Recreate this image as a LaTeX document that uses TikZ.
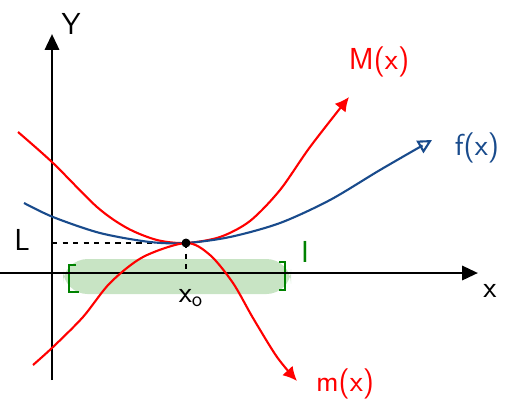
\documentclass[tikz,border=0pt]{standalone}
\usetikzlibrary{arrows.meta}
\definecolor{fblue}{RGB}{25,75,140}
\definecolor{bandgreen}{RGB}{200,228,196}
\definecolor{igreen}{RGB}{0,130,0}
\tikzset{
  axis/.style={line width=1.6pt, -{Triangle[length=9pt,width=8pt]}},
  curve/.style={line width=1.2pt},
  lbl/.style={font=\sffamily\LARGE},
}
\begin{document}
\begin{tikzpicture}[x=0.02cm,y=-0.02cm]
        \useasboundingbox (0,0) rectangle (513,407); % bounding box fix
        % interval I
        \fill[bandgreen, rounded corners=14] (63,259) rectangle (291,294);
        \draw[igreen, line width=1.3pt] (76,265) -- (69,265) -- (69,292) -- (79,292);
        \draw[igreen, line width=1.3pt] (279,262) -- (285,262) -- (285,290) -- (279,290);
        % axes
        \draw[axis] (0,273) -- (478,273);
        \draw[axis] (52,380) -- (52,34);
        \coordinate (x0) at (186,243);
        \draw[dashed, line width=1pt] (52,243) -- (x0);
        \draw[dashed, line width=1pt] (x0) -- (186,273);
        % curves
        \draw[curve, red, -{Latex[length=8pt,width=8pt]}] plot[smooth] coordinates {(18,132) (53,163) (97,207) (127,228) (157,240) (x0) (220,237) (250,221) (280,190) (310,147) (349,97)};
        \draw[curve, fblue, -{Triangle[open,length=8pt,width=8pt]}] plot[smooth] coordinates {(24,203) (53,217) (100,233) (150,242) (x0) (230,237) (280,223) (330,200) (380,170) (432,140)};
        \draw[curve, red, -{Latex[length=8pt,width=8pt]}] plot[smooth] coordinates {(33,365) (53,347) (83,317) (110,283) (143,257) (x0) (210,255) (233,283) (253,318) (277,357) (297,381)};
        \fill (x0) circle (4.5);
        % labels
        \node[lbl] (ylab) at (71,24) {Y};
        \node[lbl] (xlab) at (490,291) {x};
        \node[lbl] (llab) at (22,240) {L};
        \node[lbl] (x0lab) at (191,298) {x\textsubscript{o}};
        \node[lbl, igreen] (ilab) at (305,252) {I};
        \node[lbl, red] (Mlab) at (379,62) {M(x)};
        \node[lbl, fblue] (flab) at (477,148) {f(x)};
        \node[lbl, red] (mlab) at (345,384) {m(x)};
\end{tikzpicture}
\end{document}
